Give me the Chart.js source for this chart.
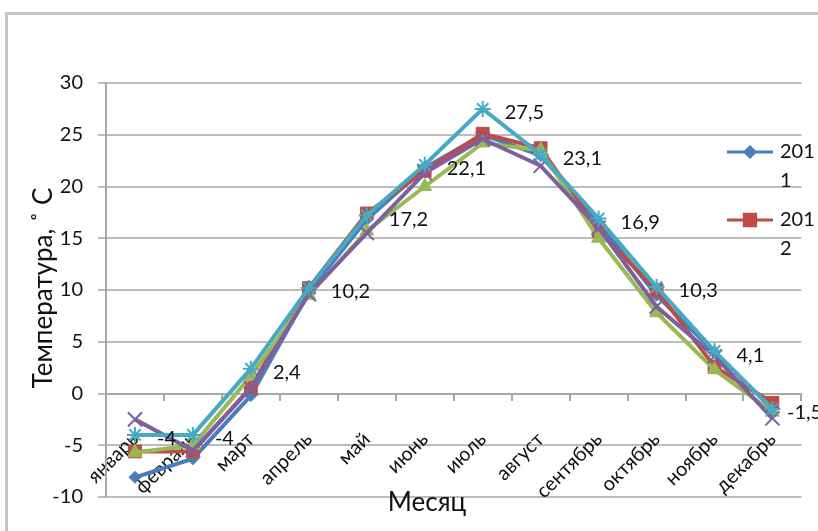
<!DOCTYPE html>
<html>
<head>
<meta charset="utf-8">
<script src="https://cdn.jsdelivr.net/npm/chart.js@4.4.1/dist/chart.umd.min.js"></script>
<style>
  body { margin: 0; background: #fff; }
  #wrap { position: relative; width: 818px; height: 531px; }
  #frame { position: absolute; left: 5px; top: 12px; right: -10px; bottom: -10px;
           border-left: 3px solid #c6c6c6; border-top: 3px solid #c6c6c6; }
  canvas { position: absolute; left: 0; top: 0; }
</style>
</head>
<body>
<div id="wrap">
  <div id="frame"></div>
  <canvas id="myChart" width="818" height="531"></canvas>
</div>
<script>
const months = ["январь", "февраль", "март", "апрель", "май", "июнь",
  "июль", "август", "сентябрь", "октябрь", "ноябрь", "декабрь"];
const seriesNames = ["2011", "2012", "2013", "2014", "2015"];
const s2011 = [-8.1, -6.3, -0.2, 9.8, 16.8, 21.8, 25, 23, 16.5, 9.5, 4, -1.5];
const s2012 = [-5.6, -5.6, 0.6, 10.2, 17.4, 21.5, 25.1, 23.7, 15.7, 10, 2.6, -0.9];
const s2013 = [-5.7, -5, 1.7, 9.5, 15.7, 20, 24.2, 23.5, 15, 7.8, 2.3, -1.8];
const s2014 = [-2.5, -5.5, 0.5, 9.6, 15.5, 21.3, 24.6, 22, 16, 8.4, 3.6, -2.4];
const s2015 = [-4, -4, 2.4, 10.2, 17.2, 22.1, 27.5, 23.1, 16.9, 10.3, 4.1, -1.5];
const yTicks = [-10, -5, 0, 5, 10, 15, 20, 25, 30];

const colors = ["#4a7ebb", "#be4b48", "#98b954", "#7d60a0", "#46aac5"];
const styles = ["rectRot", "rect", "triangle", "crossRot", "star"];
const radii = [6, 9, 8, 10, 8];
const allData = [s2011, s2012, s2013, s2014, s2015];

const fmt = (v) => String(v).replace(".", ",");

// labels for the last series, right of each point
const valueLabels = {
  id: "valueLabels",
  afterDatasetsDraw(chart) {
    const ctx = chart.ctx;
    const meta = chart.getDatasetMeta(4);
    ctx.save();
    ctx.font = "20px Lato";
    ctx.fillStyle = "#111";
    ctx.textBaseline = "middle";
    meta.data.forEach((pt, i) => {
      let x = Math.min(pt.x + 22, 787);
      ctx.fillText(fmt(s2015[i]), x, pt.y + 4);
    });
    ctx.restore();
  },
};

// titles and the (narrow, wrapped) legend
const extras = {
  id: "extras",
  afterDraw(chart) {
    const ctx = chart.ctx;
    ctx.save();
    ctx.fillStyle = "#111";
    ctx.font = "26px Lato";
    ctx.textAlign = "center";
    ctx.textBaseline = "middle";
    ctx.fillText("Месяц", 427, 503);
    ctx.translate(44, 288);
    ctx.rotate(-Math.PI / 2);
    ctx.fillText("Температура, ˚ С", 0, 0);
    ctx.restore();

    [0, 1].forEach((i) => {
      const y = 152 + i * 68;
      ctx.save();
      ctx.strokeStyle = colors[i];
      ctx.lineWidth = 3;
      ctx.beginPath();
      ctx.moveTo(727, y);
      ctx.lineTo(773, y);
      ctx.stroke();
      ctx.fillStyle = colors[i];
      ctx.strokeStyle = colors[i];
      Chart.helpers.drawPoint(ctx, { pointStyle: styles[i], radius: radii[i] - 1, borderWidth: 1 }, 750, y);
      ctx.fillStyle = "#111";
      ctx.font = "20px Lato";
      ctx.textBaseline = "middle";
      ctx.fillText(seriesNames[i].slice(0, 3), 780, y);
      ctx.fillText(seriesNames[i].slice(3), 780, y + 29);
      ctx.restore();
    });
  },
};

new Chart(document.getElementById("myChart").getContext("2d"), {
  type: "line",
  data: {
    labels: months,
    datasets: allData.map((d, i) => ({
      label: seriesNames[i],
      data: d,
      borderColor: colors[i],
      backgroundColor: colors[i],
      borderWidth: 4,
      pointStyle: styles[i],
      pointRadius: radii[i],
      pointBorderWidth: i >= 3 ? 2 : 1,
      tension: 0,
      order: 4 - i,
    })),
  },
  options: {
    responsive: false,
    animation: false,
    layout: { padding: { left: 0, top: 83, right: 14, bottom: 34 } },
    plugins: { legend: { display: false }, tooltip: { enabled: false } },
    scales: {
      x: {
        position: { y: 0 },
        offset: true,
        grid: { drawOnChartArea: false, drawTicks: true, tickLength: 6, offset: true, color: "#a8a8a8", lineWidth: 2 },
        border: { color: "#a8a8a8", width: 2 },
        ticks: { minRotation: 45, maxRotation: 45, padding: 28, color: "#111", font: { family: "Lato", size: 20 } },
      },
      y: {
        min: -10,
        max: 30,
        afterFit: (s) => { s.width = 106; },
        afterBuildTicks: (s) => { s.ticks = yTicks.map((v) => ({ value: v })); },
        grid: { color: "#bcbcbc", lineWidth: 2, tickLength: 8 },
        border: { color: "#a8a8a8", width: 2 },
        ticks: { padding: 15, color: "#111", font: { family: "Lato", size: 20 } },
      },
    },
  },
  plugins: [valueLabels, extras],
});
</script>
</body>
</html>
